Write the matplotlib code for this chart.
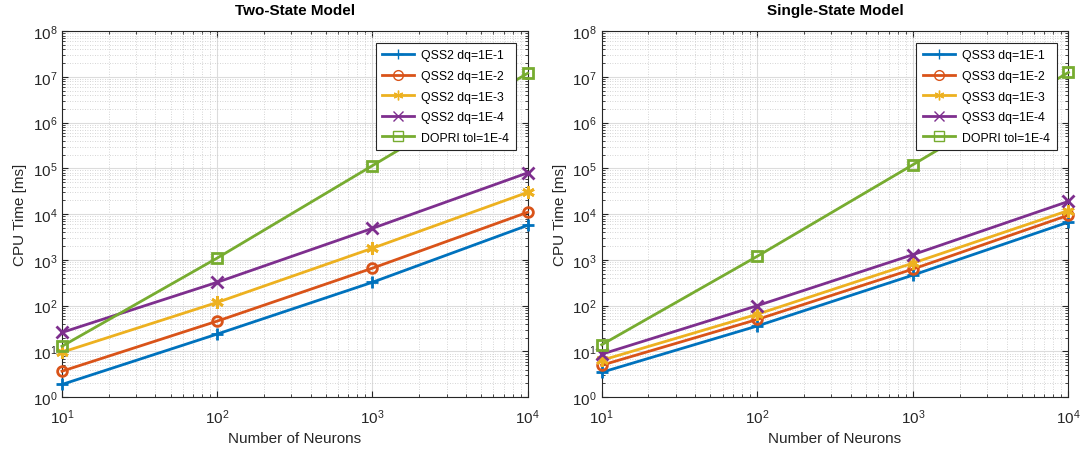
import numpy as np
import matplotlib.pyplot as plt
from matplotlib.ticker import LogLocator, NullFormatter, FixedLocator

plt.rcParams['font.family'] = ['Liberation Sans', 'DejaVu Sans']

neurons = [10, 100, 1000, 10000]

# Two-state model CPU times [ms]
two_qss_dq1 = [1.9, 24, 325, 5700]
two_qss_dq2 = [3.7, 46, 660, 11000]
two_qss_dq3 = [9.6, 118, 1800, 30000]
two_qss_dq4 = [26, 325, 4900, 80000]
two_dopri = [13, 1100, 115000, 12000000]

# Single-state model CPU times [ms]
one_qss_dq1 = [3.5, 36, 465, 6700]
one_qss_dq2 = [5.0, 50, 630, 9500]
one_qss_dq3 = [6.4, 65, 850, 12000]
one_qss_dq4 = [8.7, 100, 1300, 19000]
one_dopri = [14, 1200, 120000, 12500000]

colors = ['#0072BD', '#D95319', '#EDB120', '#7E2F8E', '#77AC30']
# MATLAB-like markers: plus, circle, asterisk, cross, square
markers = ['+', 'o', (6, 2, 0), 'x', 's']
dq_labels = ['dq=1E-1', 'dq=1E-2', 'dq=1E-3', 'dq=1E-4']
y_decades = [10.0 ** k for k in range(0, 9)]


def draw_panel(ax, series, qss_name, title):
    labels = [f'{qss_name} {d}' for d in dq_labels] + ['DOPRI tol=1E-4']
    for i, (vals, c, m, lab) in enumerate(zip(series, colors, markers, labels)):
        ms = 7 if m in ('o', 's') else 9
        ax.plot(neurons, vals, color=c, marker=m, markersize=ms, markeredgewidth=2,
                markerfacecolor='none', linewidth=2, label=lab, clip_on=False,
                zorder=3 + i)
    ax.set_xscale('log')
    ax.set_yscale('log')
    ax.set_xlim(10, 10000)
    ax.set_ylim(1, 1e8)
    ax.xaxis.set_major_locator(FixedLocator(neurons))
    ax.yaxis.set_major_locator(FixedLocator(y_decades))
    ax.yaxis.set_minor_locator(LogLocator(base=10, subs=np.arange(2, 10), numticks=20))
    ax.yaxis.set_minor_formatter(NullFormatter())
    ax.xaxis.set_minor_formatter(NullFormatter())
    ax.grid(True, which='major', color='#dcdcdc', linewidth=0.8, linestyle='-')
    ax.grid(True, which='minor', color='#c8c8c8', linewidth=0.6, linestyle=(0, (1, 2)))
    ax.set_axisbelow(True)
    ax.tick_params(which='both', direction='in', top=True, right=True, labelsize=11,
                   colors='#262626', labelcolor='#262626')
    ax.tick_params(which='major', length=4)
    ax.tick_params(which='minor', length=2)
    ax.tick_params(axis='x', pad=7)
    for sp in ax.spines.values():
        sp.set_color('#262626')
        sp.set_linewidth(0.8)
    ax.set_xlabel('Number of Neurons', fontsize=11, color='#262626', labelpad=4)
    ax.set_ylabel('CPU Time [ms]', fontsize=11, color='#262626')
    ax.set_title(title, fontsize=11, fontweight='bold', pad=12)
    leg = ax.legend(loc='upper right', fontsize=8.8, fancybox=False, framealpha=1,
                    edgecolor='#262626', borderaxespad=0.95, handlelength=2.6,
                    labelspacing=0.7, borderpad=0.55, handletextpad=0.6)
    leg.get_frame().set_linewidth(0.8)
    leg.set_zorder(20)
    for line in leg.get_lines():
        line.set_markersize(7)
        line.set_markeredgewidth(1)


fig = plt.figure(figsize=(10.88, 4.52), dpi=100)
ax1 = fig.add_axes([0.057, 0.119, 0.428, 0.810])
ax2 = fig.add_axes([0.553, 0.119, 0.429, 0.810])

draw_panel(ax1, [two_qss_dq1, two_qss_dq2, two_qss_dq3, two_qss_dq4, two_dopri],
           'QSS2', 'Two-State Model')
draw_panel(ax2, [one_qss_dq1, one_qss_dq2, one_qss_dq3, one_qss_dq4, one_dopri],
           'QSS3', 'Single-State Model')

fig.savefig('out.png', dpi=100)
